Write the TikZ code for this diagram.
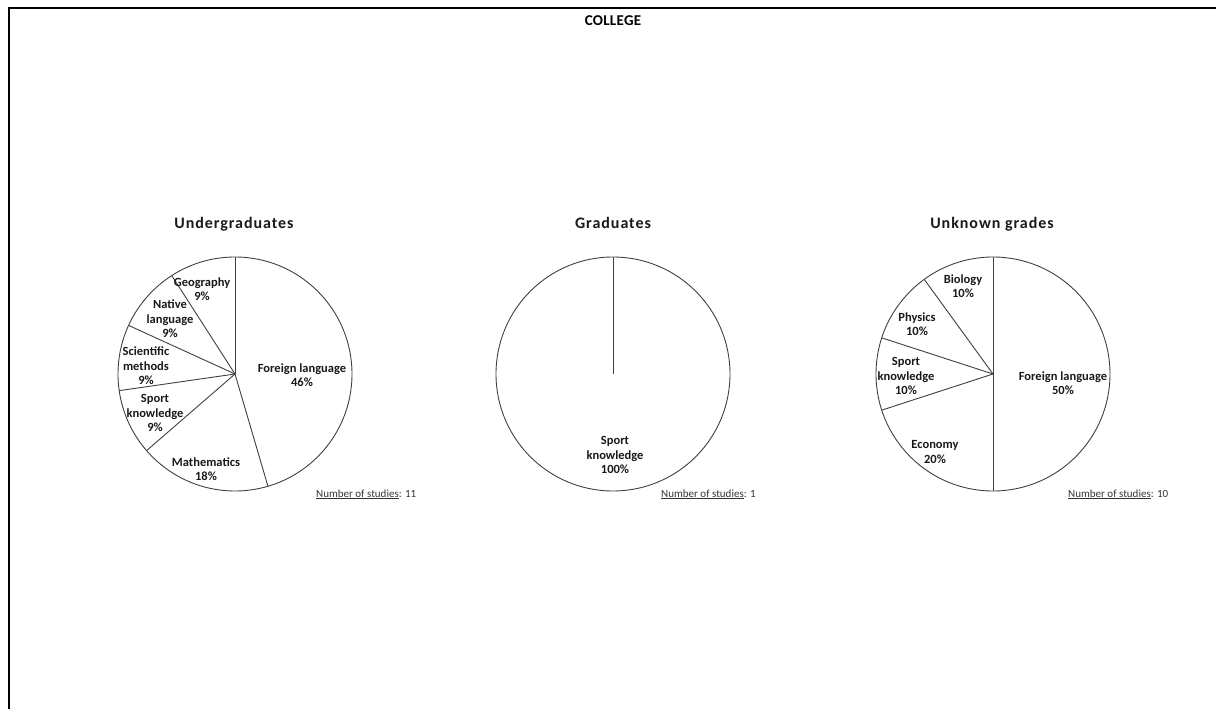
\documentclass[tikz,border=0pt]{standalone}
\usepackage{fontspec}
\setmainfont{Carlito}
\usepackage{tikz}
\tikzset{
every picture/.style={x=1pt, y=-1pt},
frameline/.style={draw=black, line width=2pt},
slice/.style={draw=black!75, line width=0.9pt},
slicelabel/.style={font=\bfseries\fontsize{12.5}{14.5}\selectfont, align=center, inner sep=0pt, text=black!90},
charttitle/.style={font=\bfseries\fontsize{16}{18}\selectfont\addfontfeature{LetterSpace=6}, anchor=base, inner sep=0pt, text=black!90},
maintitle/.style={font=\bfseries\fontsize{15}{17}\selectfont\addfontfeature{LetterSpace=2}, anchor=base, inner sep=0pt},
countlabel/.style={font=\fontsize{11}{13}\selectfont, anchor=base west, inner sep=0pt, text=black!80}
}

\begin{document}
\begin{tikzpicture}
\useasboundingbox (0,0) rectangle (1216,709);

%Frame
\draw[frameline] (8.5,709) -- (8.5,8.5) -- (1216,8.5);
\node[maintitle] (college) at (613,26) {COLLEGE};

%Centres
\coordinate (Ucen) at (235,374);
\coordinate (Gcen) at (613,374);
\coordinate (Kcen) at (993,374);

%Titles
\node[charttitle] (Utitle) at (234,228) {Undergraduates};
\node[charttitle] (Gtitle) at (613,228) {Graduates};
\node[charttitle] (Ktitle) at (992,228) {Unknown grades};

%Undergraduates
\draw[slice] (Ucen) circle[radius=117pt];
\draw[slice] (Ucen) -- ++(-90:117);
\draw[slice] (Ucen) -- ++(73.64:117);
\draw[slice] (Ucen) -- ++(139.09:117);
\draw[slice] (Ucen) -- ++(171.82:117);
\draw[slice] (Ucen) -- ++(-155.45:117);
\draw[slice] (Ucen) -- ++(-122.73:117);
\node[slicelabel] (UForeign) at (302,375) {Foreign language\\46\%};
\node[slicelabel] (UMath) at (206,469) {Mathematics\\18\%};
\node[slicelabel] (USport) at (155,413) {Sport\\knowledge\\9\%};
\node[slicelabel] (UScience) at (146,366) {Scientific\\methods\\9\%};
\node[slicelabel] (UNative) at (170,319) {Native\\language\\9\%};
\node[slicelabel] (UGeo) at (202,289) {Geography\\9\%};
\node[countlabel] (Ucount) at (316,497) {\underline{Number of studies}: 11};

%Graduates
\draw[slice] (Gcen) circle[radius=117pt];
\draw[slice] (Gcen) -- ++(-90:117);
\node[slicelabel] (GSport) at (615,455) {Sport\\knowledge\\100\%};
\node[countlabel] (Gcount) at (661,497) {\underline{Number of studies}: 1};

%Unknown grades
\draw[slice] (Kcen) circle[radius=117pt];
\draw[slice] (Kcen) -- ++(-90:117);
\draw[slice] (Kcen) -- ++(90:117);
\draw[slice] (Kcen) -- ++(162:117);
\draw[slice] (Kcen) -- ++(-162:117);
\draw[slice] (Kcen) -- ++(-126:117);
\node[slicelabel] (KForeign) at (1063,383) {Foreign language\\50\%};
\node[slicelabel] (KEco) at (935,452) {Economy\\20\%};
\node[slicelabel] (KSport) at (906,376) {Sport\\knowledge\\10\%};
\node[slicelabel] (KPhys) at (917,324) {Physics\\10\%};
\node[slicelabel] (KBio) at (963,286) {Biology\\10\%};
\node[countlabel] (Kcount) at (1068,497) {\underline{Number of studies}: 10};

\end{tikzpicture}
\end{document}
